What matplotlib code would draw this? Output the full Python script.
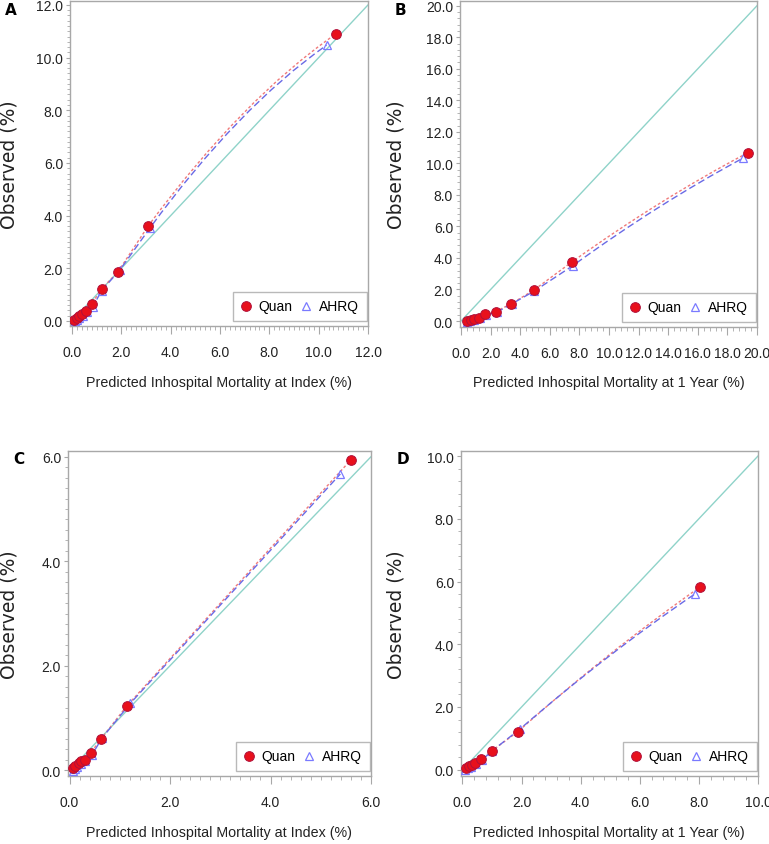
"""
Calibration plots: observed vs predicted inhospital mortality,
Quan vs AHRQ comorbidity adaptations (panels A-D).
"""

import numpy as np
import matplotlib
matplotlib.use("Agg")
import matplotlib.pyplot as plt
from matplotlib.path import Path
from matplotlib.patches import PathPatch
from matplotlib.ticker import MultipleLocator, FormatStrFormatter

# ---------------------------------------------------------------------
# Data
# ---------------------------------------------------------------------
a_quan_x = [0.1, 0.2, 0.3, 0.4, 0.55, 0.8, 1.2, 1.85, 3.1, 10.7]
a_quan_y = [0.05, 0.12, 0.18, 0.25, 0.38, 0.65, 1.22, 1.85, 3.62, 10.9]
a_ahrq_x = [0.12, 0.2, 0.3, 0.45, 0.6, 0.85, 1.2, 1.95, 3.16, 10.32]
a_ahrq_y = [0.0, 0.03, 0.1, 0.2, 0.35, 0.55, 1.15, 1.95, 3.53, 10.47]

b_quan_x = [0.4, 0.65, 0.88, 1.2, 1.65, 2.35, 3.4, 4.9, 7.5, 19.37]
b_quan_y = [0.0, 0.06, 0.1, 0.2, 0.42, 0.6, 1.1, 1.95, 3.75, 10.67]
b_ahrq_x = [0.4, 0.6, 0.9, 1.25, 1.7, 2.4, 3.45, 4.95, 7.54, 19.05]
b_ahrq_y = [-0.05, 0.02, 0.08, 0.18, 0.38, 0.55, 1.1, 1.9, 3.5, 10.33]

c_quan_x = [0.07, 0.11, 0.18, 0.23, 0.3, 0.42, 0.62, 1.14, 5.6]
c_quan_y = [0.04, 0.09, 0.14, 0.17, 0.2, 0.33, 0.59, 1.23, 5.94]
c_ahrq_x = [0.06, 0.1, 0.15, 0.22, 0.3, 0.45, 0.65, 1.21, 5.39]
c_ahrq_y = [-0.01, 0.03, 0.07, 0.12, 0.18, 0.3, 0.62, 1.28, 5.67]

d_quan_x = [0.11, 0.23, 0.32, 0.43, 0.64, 0.99, 1.87, 8.05]
d_quan_y = [0.07, 0.13, 0.16, 0.23, 0.34, 0.6, 1.21, 5.83]
d_ahrq_x = [0.1, 0.2, 0.3, 0.45, 0.65, 1.0, 1.95, 7.86]
d_ahrq_y = [0.0, 0.05, 0.1, 0.18, 0.3, 0.6, 1.3, 5.6]

xlabel_index = "Predicted Inhospital Mortality at Index (%)"
xlabel_year = "Predicted Inhospital Mortality at 1 Year (%)"
ylabel = "Observed (%)"

# ---------------------------------------------------------------------
# Styling
# ---------------------------------------------------------------------
plt.rcParams["font.family"] = ["Liberation Sans", "DejaVu Sans"]

FRAME = "#a8a8a8"
DIAG = "#8fd3c9"
QUAN = "#e8101c"
QUAN_LINE = "#f07a7a"
AHRQ = "#7a7aff"
AHRQ_LINE = "#6a6ae6"
TEXT = "#222222"

W, H = 769, 845

# panel geometry in pixels: left, right, top, bottom; bend = curvature of the
# smoothed connector on the long last segment
panels = [
    dict(tag="A", box=(70, 368, 2, 327), xlim=(-0.08, 12.0), ylim=(-0.19, 12.15),
         major=2.0, minor=0.2, xlabel=xlabel_index, bend=0.32,
         quan=(a_quan_x, a_quan_y), ahrq=(a_ahrq_x, a_ahrq_y),
         letter=(5, 3), ylab_x=9, xlab=(219, 383)),
    dict(tag="B", box=(460, 757, 2, 328), xlim=(-0.07, 20.0), ylim=(-0.38, 20.3),
         major=2.0, minor=0.4, xlabel=xlabel_year, bend=0.15,
         quan=(b_quan_x, b_quan_y), ahrq=(b_ahrq_x, b_ahrq_y),
         letter=(395, 3), ylab_x=396, xlab=(609, 383)),
    dict(tag="C", box=(68, 371, 452, 777), xlim=(-0.03, 6.0), ylim=(-0.11, 6.11),
         major=2.0, minor=0.2, xlabel=xlabel_index, bend=0.0,
         quan=(c_quan_x, c_quan_y), ahrq=(c_ahrq_x, c_ahrq_y),
         letter=(13, 452), ylab_x=9, xlab=(219, 833)),
    dict(tag="D", box=(461, 758, 452, 777), xlim=(-0.05, 10.0), ylim=(-0.2, 10.16),
         major=2.0, minor=0.4, xlabel=xlabel_year, bend=0.12,
         quan=(d_quan_x, d_quan_y), ahrq=(d_ahrq_x, d_ahrq_y),
         letter=(397, 452), ylab_x=396, xlab=(609, 833)),
]


def connector_path(xs, ys, bend):
    """Straight joins between the points; the last (long) join is a gentle
    cubic curve whose end tangents are tilted by +/- bend."""
    x = np.asarray(xs, float)
    y = np.asarray(ys, float)
    verts = list(zip(x[:-1], y[:-1]))
    codes = [Path.MOVETO] + [Path.LINETO] * (len(verts) - 1)
    h = x[-1] - x[-2]
    s = (y[-1] - y[-2]) / h
    d = h / 3.0
    verts += [(x[-2] + d, y[-2] + d * s * (1 + bend)),
              (x[-1] - d, y[-1] - d * s * (1 - bend)),
              (x[-1], y[-1])]
    codes += [Path.CURVE4] * 3
    return Path(verts, codes)


fig = plt.figure(figsize=(W / 100, H / 100), dpi=100)

for p in panels:
    l, r, t, b = p["box"]
    ax = fig.add_axes([l / W, 1 - b / H, (r - l) / W, (b - t) / H])
    ax.set_xlim(*p["xlim"])
    ax.set_ylim(*p["ylim"])

    # reference diagonal
    lim = max(p["xlim"][1], p["ylim"][1])
    ax.plot([0, lim], [0, lim], color=DIAG, lw=1.0, zorder=1)

    qx, qy = p["quan"]
    hx, hy = p["ahrq"]
    ax.add_patch(PathPatch(connector_path(qx, qy, p["bend"]), fill=False,
                           edgecolor=QUAN_LINE, lw=1.0,
                           linestyle=(0, (2.0, 1.6)), zorder=2))
    ax.add_patch(PathPatch(connector_path(hx, hy, p["bend"]), fill=False,
                           edgecolor=AHRQ_LINE, lw=1.0,
                           linestyle=(0, (5.0, 2.5)), zorder=2))

    ax.plot(hx, hy, linestyle="none", marker="^", markersize=6,
            markerfacecolor="none", markeredgecolor=AHRQ, markeredgewidth=0.9,
            zorder=3, label="AHRQ")
    ax.plot(qx, qy, linestyle="none", marker="o", markersize=7,
            markerfacecolor=QUAN, markeredgecolor="#b0103a", markeredgewidth=0.7,
            zorder=4, label="Quan")

    ax.xaxis.set_major_locator(MultipleLocator(p["major"]))
    ax.yaxis.set_major_locator(MultipleLocator(p["major"]))
    ax.xaxis.set_minor_locator(MultipleLocator(p["minor"]))
    ax.yaxis.set_minor_locator(MultipleLocator(p["minor"]))
    ax.xaxis.set_major_formatter(FormatStrFormatter("%.1f"))
    ax.yaxis.set_major_formatter(FormatStrFormatter("%.1f"))
    ax.tick_params(axis="x", which="major", direction="out", length=6, width=0.8,
                   color=FRAME, labelsize=10, labelcolor=TEXT, pad=8)
    ax.tick_params(axis="x", which="minor", direction="out", length=3, width=0.6,
                   color=FRAME)
    ax.tick_params(axis="y", which="major", direction="out", length=3, width=0.8,
                   color=FRAME, labelsize=10, labelcolor=TEXT, pad=2)
    ax.tick_params(axis="y", which="minor", direction="out", length=2, width=0.6,
                   color=FRAME)
    for s in ax.spines.values():
        s.set_color(FRAME)
        s.set_linewidth(1.0)

    handles, labels = ax.get_legend_handles_labels()
    leg = ax.legend(handles[::-1], labels[::-1], loc="lower right", ncol=2,
                    bbox_to_anchor=(1 - 1.5 / (r - l), 5 / (b - t)),
                    frameon=True, fancybox=False, edgecolor=FRAME,
                    fontsize=10, handlelength=0.8, handletextpad=0.5,
                    columnspacing=0.6, borderaxespad=0.0, borderpad=0.55)
    leg.get_frame().set_linewidth(1.0)

    # axis titles and panel letters placed in figure pixels
    fig.text(p["xlab"][0] / W, 1 - p["xlab"][1] / H, p["xlabel"],
             fontsize=10.3, color=TEXT, ha="center", va="center")
    fig.text(p["ylab_x"] / W, 1 - (t + b) / 2 / H, ylabel, rotation=90,
             fontsize=13.5, family="DejaVu Sans", color=TEXT,
             ha="center", va="center")
    fig.text(p["letter"][0] / W, 1 - p["letter"][1] / H, p["tag"],
             fontsize=11, fontweight="bold", family="DejaVu Sans",
             ha="left", va="top")

fig.savefig("out.png", dpi=100)
